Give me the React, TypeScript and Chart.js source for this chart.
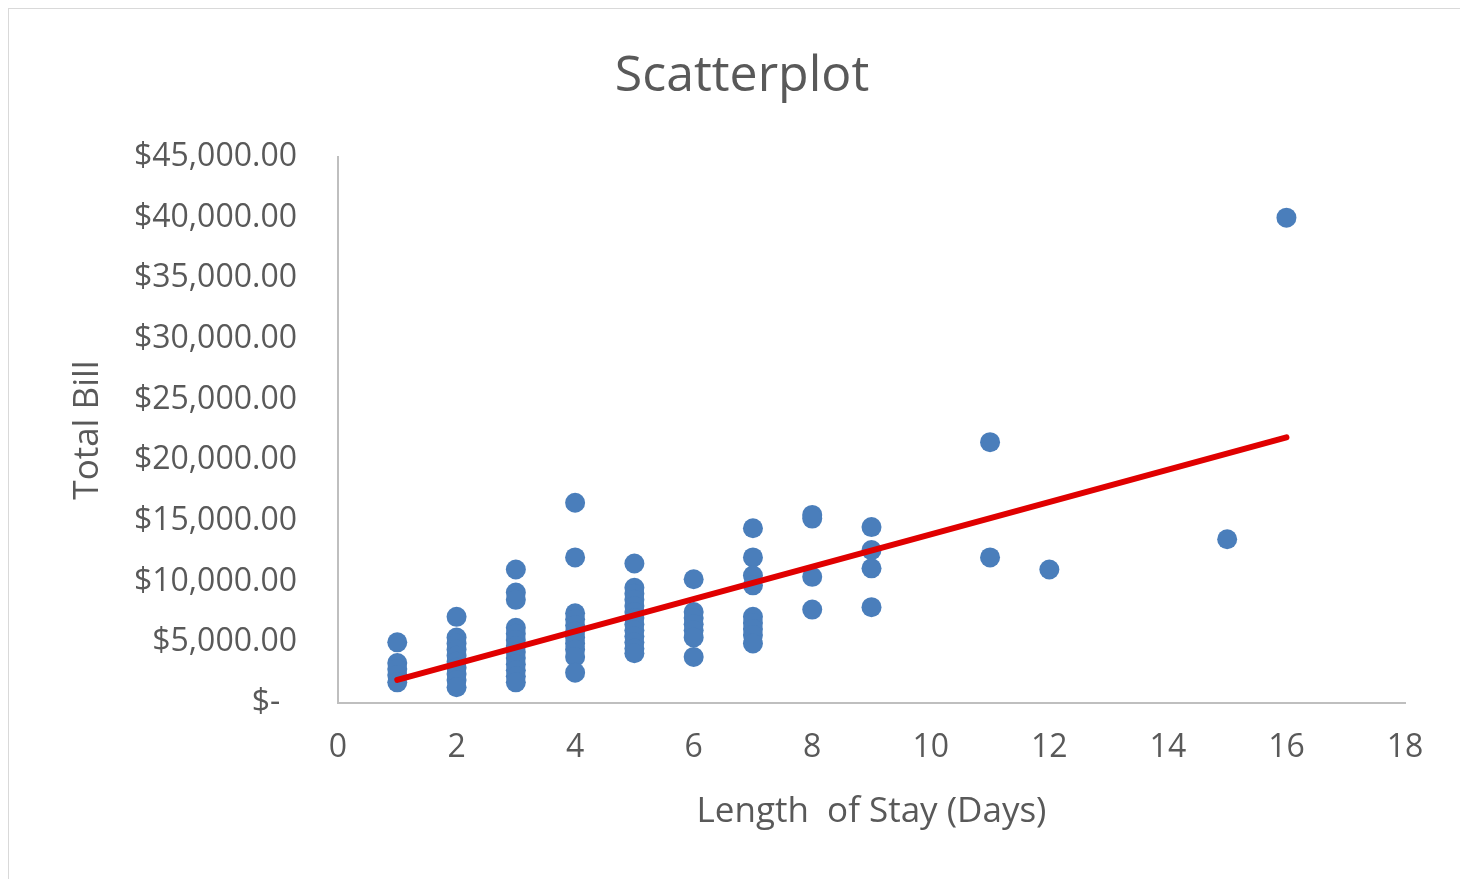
import React, { useEffect, useRef } from 'react';
import { Chart, registerables } from 'chart.js';

Chart.register(...registerables);

// Length of stay (days) for each column of patients
const stayDays = [1, 2, 3, 4, 5, 6, 7, 8, 9, 11, 12, 15, 16];

// Total bill per patient, grouped by length of stay
const billsByDay = [
  [5000, 3300, 2800, 2300, 1700],
  [7100, 5400, 4900, 4400, 3900, 3400, 2900, 2400, 1900, 1300],
  [11000, 9100, 8500, 6200, 5700, 5200, 4700, 4200, 3700, 3200, 2700, 2200, 1700],
  [16500, 12000, 7400, 6900, 6400, 5900, 5400, 4900, 4400, 3800, 2500],
  [11500, 9500, 9000, 8500, 8000, 7500, 7000, 6500, 6000, 5500, 5000, 4500, 4100],
  [10200, 7500, 7000, 6500, 6000, 5400, 3800],
  [14400, 12000, 10500, 9700, 7100, 6600, 6100, 5600, 4900],
  [15500, 15200, 10400, 7700],
  [14500, 12600, 11100, 7900],
  [21500, 12000],
  [11000],
  [13500],
  [40000],
];

// Linear trendline end points
const trendDays = [1, 16];
const trendBills = [1900, 21900];

// Y axis labels in accounting format
const yTickLabels = [
  '$-  ',
  '$5,000.00',
  '$10,000.00',
  '$15,000.00',
  '$20,000.00',
  '$25,000.00',
  '$30,000.00',
  '$35,000.00',
  '$40,000.00',
  '$45,000.00',
];

const FONT = '"Open Sans", "Segoe UI", sans-serif';
const TEXT = '#595959';
const AXIS = '#bfbfbf';

export default function App() {
  const canvasRef = useRef<HTMLCanvasElement | null>(null);

  useEffect(() => {
    const canvas = canvasRef.current;
    if (!canvas) return;

    const points = stayDays.flatMap((d, i) => billsByDay[i].map((b) => ({ x: d, y: b })));
    const trend = trendDays.map((d, i) => ({ x: d, y: trendBills[i] }));

    const chart = new Chart(canvas, {
      type: 'scatter',
      data: {
        datasets: [
          {
            label: 'Trend',
            data: trend,
            showLine: true,
            borderColor: '#e00000',
            borderWidth: 6,
            borderCapStyle: 'round',
            pointRadius: 0,
            pointHoverRadius: 0,
          },
          {
            label: 'Total Bill',
            data: points,
            backgroundColor: '#4a7ebb',
            borderWidth: 0,
            pointRadius: 10,
            pointHoverRadius: 10,
          },
        ],
      },
      options: {
        responsive: false,
        animation: false,
        layout: { padding: { left: 7, right: 0, top: 0, bottom: 0 } },
        plugins: {
          legend: { display: false },
          tooltip: { enabled: false },
          title: {
            display: true,
            text: 'Scatterplot',
            color: TEXT,
            font: { family: FONT, size: 50, weight: 'normal' },
            padding: { top: 38, bottom: 50 },
          },
        },
        scales: {
          x: {
            type: 'linear',
            min: 0,
            max: 18,
            ticks: {
              stepSize: 2,
              color: TEXT,
              font: { family: FONT, size: 32 },
              padding: 26,
            },
            grid: { display: false, drawTicks: false },
            border: { display: true, color: AXIS, width: 2 },
            title: {
              display: true,
              text: 'Length  of Stay (Days)',
              color: TEXT,
              font: { family: FONT, size: 35 },
              padding: { top: 0, bottom: 46 },
            },
            afterFit: (scale: any) => {
              scale.height = 176;
            },
          },
          y: {
            type: 'linear',
            min: 0,
            max: 45000,
            ticks: {
              stepSize: 5000,
              color: TEXT,
              font: { family: FONT, size: 32 },
              padding: 41,
              callback: (value: any) => yTickLabels[Math.round(Number(value) / 5000)],
            },
            grid: { display: false, drawTicks: false },
            border: { display: true, color: AXIS, width: 2 },
            title: {
              display: true,
              text: 'Total Bill',
              color: TEXT,
              font: { family: FONT, size: 35 },
              padding: { top: 51, bottom: 0 },
            },
            afterFit: (scale: any) => {
              scale.width = 322;
            },
          },
          // empty right-hand margin so the title stays centred on the whole chart
          yMargin: {
            type: 'linear',
            axis: 'y',
            position: 'right',
            grid: { display: false, drawTicks: false },
            border: { display: false },
            ticks: { display: false },
            afterFit: (scale: any) => {
              scale.width = 63;
            },
          },
        },
      },
    });

    return () => chart.destroy();
  }, []);

  return (
    <div
      style={{
        width: 1460,
        height: 871,
        boxSizing: 'border-box',
        borderTop: '1px solid #d9d9d9',
        borderLeft: '1px solid #d9d9d9',
        background: '#fff',
      }}
    >
      <canvas ref={canvasRef} width={1459} height={870} style={{ display: 'block' }} />
    </div>
  );
}
